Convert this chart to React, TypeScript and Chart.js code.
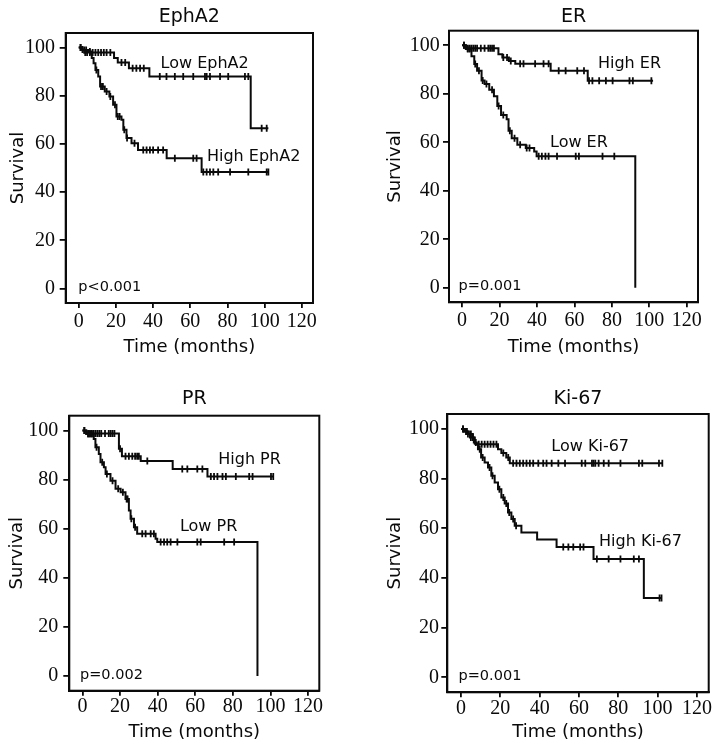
import React, { useEffect, useRef } from "react";
import { Chart, registerables } from "chart.js";
Chart.register(...registerables);

// ---------------- data ----------------
const X_TICKS = [0, 20, 40, 60, 80, 100, 120];
const Y_TICKS = [0, 20, 40, 60, 80, 100];
const X_TITLE = "Time (months)";
const Y_TITLE = "Survival";

// EphA2
const EPHA2_LOW_TIMES = [0, 1.5, 3, 19, 21, 27, 38, 92.5];
const EPHA2_LOW_SURV = [100, 99.2, 97.9, 95.6, 93.8, 91.4, 88, 66.5];
const EPHA2_LOW_END = 102;
const EPHA2_LOW_CENSOR = [1, 2, 3.5, 4.5, 6, 7.5, 9, 10.5, 12, 13.5, 15, 17, 23, 25, 29, 31, 33, 35, 43.6, 47.2, 51.7, 56.2, 61.6, 67.9, 68.8, 70.6, 76, 80.4, 89.4, 91.2, 98.4, 101.1];
const EPHA2_HIGH_TIMES = [0, 2, 5, 7, 8, 9, 10.5, 11.5, 14, 16.5, 18.5, 20.3, 23, 24, 25.7, 28.4, 31.9, 47.3, 66.1];
const EPHA2_HIGH_SURV = [100, 99, 98.3, 95.6, 93.5, 90.7, 88, 83.8, 81.7, 79.7, 76.2, 71.4, 70, 65.9, 62.4, 60.3, 57.5, 54, 48.3];
const EPHA2_HIGH_END = 102;
const EPHA2_HIGH_CENSOR = [1, 3, 4, 6, 9.5, 12, 13, 15, 17, 19.5, 21, 22, 24.5, 26, 30, 34.7, 36.5, 38.3, 40, 42.7, 45.4, 51.7, 61.6, 63.4, 67, 68.8, 70.6, 72.4, 75, 81.4, 91.2, 101.1, 102];

// ER
const ER_HIGH_TIMES = [0, 2, 19.4, 21.5, 25, 28.4, 47.3, 67.1];
const ER_HIGH_SURV = [100, 98.8, 96.3, 94.9, 93.5, 92.4, 89.5, 85.4];
const ER_HIGH_END = 102;
const ER_HIGH_CENSOR = [1, 3, 4, 5, 6, 7, 8, 10, 12, 14, 15, 16, 17, 22, 24, 26, 31, 32.8, 39, 43.5, 46.2, 51.6, 55.3, 61.5, 65.1, 67.8, 69.6, 73.2, 76.8, 80.4, 89.4, 91.2, 101.1];
const ER_LOW_TIMES = [0, 2, 5, 6.5, 8, 10.4, 12, 14.5, 17, 18.8, 20.8, 23.8, 24.8, 26.5, 29.5, 34, 38.5, 39.8, 92.5];
const ER_LOW_SURV = [100, 98.5, 95.5, 92.3, 89.5, 85.5, 84, 81.7, 79, 75, 71.2, 69.5, 64.7, 61.6, 59, 57.6, 56.2, 54.2, 0];
const ER_LOW_END = 92.5;
const ER_LOW_CENSOR = [1, 3, 4, 7, 9, 11, 13, 16, 19.5, 22, 25.5, 28, 31, 34.5, 36, 40.9, 42.6, 44.5, 46.2, 50.7, 60.7, 62.4, 75, 81.3];

// PR
const PR_HIGH_TIMES = [0, 2, 19.4, 21, 31, 48, 66.5];
const PR_HIGH_SURV = [100, 98.8, 92.5, 89.5, 87.5, 84.3, 81.2];
const PR_HIGH_END = 101.5;
const PR_HIGH_CENSOR = [1, 3, 4, 5, 6, 7, 8, 9, 10, 12, 14, 15, 16, 17, 20, 22.9, 24.7, 26.5, 28, 29.1, 30, 34.5, 53.1, 55.8, 61.1, 63.8, 68.3, 70, 71.8, 74.5, 76.3, 81.6, 88.7, 90.5, 100.3, 101.5];
const PR_LOW_TIMES = [0, 2, 6, 6.9, 8.7, 9.6, 11.4, 12.3, 14.9, 17.6, 20.3, 22.9, 24.7, 25.6, 27.4, 29.1, 38.9, 39.8, 93.1];
const PR_LOW_SURV = [100, 98.5, 96.5, 93.1, 90.4, 87, 85, 82.3, 79.5, 76.2, 74.8, 72.1, 67.4, 64, 60.6, 57.9, 55.9, 54.6, 0];
const PR_LOW_END = 93.1;
const PR_LOW_CENSOR = [1, 3, 4, 5, 7.5, 10.5, 13, 16, 19, 21.5, 23.5, 24, 26, 28, 31.8, 33.6, 36.3, 38, 41.6, 43.4, 45.1, 46.9, 50.5, 61.1, 62.9, 75.4, 80.7];

// Ki-67
const KI_LOW_TIMES = [0, 1.5, 3, 4.5, 6.5, 8, 18.8, 20.5, 23, 24.8];
const KI_LOW_SURV = [100, 99, 98, 96.5, 94.5, 93.8, 91.8, 90.3, 88.5, 86.2];
const KI_LOW_END = 102.4;
const KI_LOW_CENSOR = [1, 2.5, 3.5, 5, 6, 7.5, 9, 10.5, 12, 13.5, 15, 16.5, 18, 21.5, 24, 26.5, 28.2, 29.9, 31.6, 33.3, 35, 36.7, 39.3, 41.8, 43.5, 46.1, 49.5, 52.9, 61.4, 63.2, 66.6, 67.4, 68.3, 70, 72.6, 75.1, 81.1, 90.5, 92.2, 100.7, 102.4];
const KI_HIGH_TIMES = [0, 2, 4, 6, 7, 8.6, 10.2, 12, 13.7, 15.4, 17.1, 18.8, 20.5, 22.2, 23.9, 25.6, 27.3, 30.7, 38.7, 48.6, 67.4, 93];
const KI_HIGH_SURV = [100, 99, 98, 96.5, 94, 91.8, 88.5, 86.5, 84.5, 81.1, 78.4, 75.7, 72.4, 70, 66.4, 63.7, 61, 58.3, 55.5, 52.5, 47.6, 32];
const KI_HIGH_END = 102;
const KI_HIGH_CENSOR = [1, 3, 5, 9.5, 11, 14.5, 16, 19.5, 21.5, 23, 24.5, 26.5, 28, 52, 54.6, 57.1, 60.6, 62.3, 69.1, 75.1, 81.1, 87.9, 90.5, 101, 102];

// ---------------- helpers ----------------
type Curve = { times: number[]; surv: number[]; end: number; censor: number[] };

function survivalAt(times: number[], surv: number[], t: number) {
  let s = surv[0];
  for (let i = 0; i < times.length; i++) if (times[i] <= t) s = surv[i];
  return s;
}
function curvePoints(c: Curve) {
  const pts = c.times.map((t, i) => ({ x: t, y: c.surv[i] }));
  if (c.end > c.times[c.times.length - 1]) pts.push({ x: c.end, y: c.surv[c.surv.length - 1] });
  return pts;
}
function censorPoints(c: Curve) {
  return c.censor.map((t) => ({ x: t, y: survivalAt(c.times, c.surv, t) }));
}

type Label = { text: string; x: number; y: number; align: CanvasTextAlign; size: number };
type PanelCfg = {
  title: string;
  curves: Curve[];
  labels: Label[];
  box: { left: number; top: number; width: number; height: number };
  pad: { left: number; right: number; bottom: number };
  titlePad: { top: number; bottom: number };
  yAxisW: number;
  xAxisH: number;
  xTickPad: number;
  yTickPad: number;
};

const INK = "#0a0a0a";
const SANS = "'DejaVu Sans', sans-serif";
const SERIF = "'Liberation Serif', 'Times New Roman', serif";

const PANELS: PanelCfg[] = [
  {
    title: "EphA2",
    curves: [
      { times: EPHA2_LOW_TIMES, surv: EPHA2_LOW_SURV, end: EPHA2_LOW_END, censor: EPHA2_LOW_CENSOR },
      { times: EPHA2_HIGH_TIMES, surv: EPHA2_HIGH_SURV, end: EPHA2_HIGH_END, censor: EPHA2_HIGH_CENSOR },
    ],
    labels: [
      { text: "Low EphA2", x: 67.7, y: 93.4, align: "center", size: 16 },
      { text: "High EphA2", x: 94.1, y: 54.8, align: "center", size: 16 },
      { text: "p<0.001", x: -0.2, y: 0.6, align: "left", size: 14.5 },
    ],
    box: { left: 0, top: 0, width: 358, height: 375 },
    pad: { left: 3.2, right: 45, bottom: 12.7 },
    titlePad: { top: 5.6, bottom: 4.6 },
    yAxisW: 62.5,
    xAxisH: 59.3,
    xTickPad: 1.7,
    yTickPad: 4.7,
  },
  {
    title: "ER",
    curves: [
      { times: ER_HIGH_TIMES, surv: ER_HIGH_SURV, end: ER_HIGH_END, censor: ER_HIGH_CENSOR },
      { times: ER_LOW_TIMES, surv: ER_LOW_SURV, end: ER_LOW_END, censor: ER_LOW_CENSOR },
    ],
    labels: [
      { text: "High ER", x: 89.4, y: 92.2, align: "center", size: 16 },
      { text: "Low ER", x: 62.4, y: 59.7, align: "center", size: 16 },
      { text: "p=0.001", x: -1.9, y: 0.6, align: "left", size: 14.5 },
    ],
    box: { left: 358, top: 0, width: 359, height: 375 },
    pad: { left: 22.7, right: 19, bottom: 12.7 },
    titlePad: { top: 5.6, bottom: 2.3 },
    yAxisW: 68.3,
    xAxisH: 60,
    xTickPad: 1.5,
    yTickPad: 3.3,
  },
  {
    title: "PR",
    curves: [
      { times: PR_HIGH_TIMES, surv: PR_HIGH_SURV, end: PR_HIGH_END, censor: PR_HIGH_CENSOR },
      { times: PR_LOW_TIMES, surv: PR_LOW_SURV, end: PR_LOW_END, censor: PR_LOW_CENSOR },
    ],
    labels: [
      { text: "High PR", x: 88.9, y: 87.9, align: "center", size: 16 },
      { text: "Low PR", x: 67.1, y: 60.8, align: "center", size: 16 },
      { text: "p=0.002", x: -1.3, y: 0.3, align: "left", size: 14.5 },
    ],
    box: { left: 0, top: 375, width: 358, height: 375 },
    pad: { left: 2.7, right: 38.7, bottom: 2.7 },
    titlePad: { top: 12.9, bottom: 5 },
    yAxisW: 66.6,
    xAxisH: 56.6,
    xTickPad: -1,
    yTickPad: 5,
  },
  {
    title: "Ki-67",
    curves: [
      { times: KI_LOW_TIMES, surv: KI_LOW_SURV, end: KI_LOW_END, censor: KI_LOW_CENSOR },
      { times: KI_HIGH_TIMES, surv: KI_HIGH_SURV, end: KI_HIGH_END, censor: KI_HIGH_CENSOR },
    ],
    labels: [
      { text: "Low Ki-67", x: 65.7, y: 92.6, align: "center", size: 16 },
      { text: "High Ki-67", x: 91.3, y: 54.5, align: "center", size: 16 },
      { text: "p=0.001", x: -1.3, y: 0.5, align: "left", size: 14.5 },
    ],
    box: { left: 358, top: 375, width: 359, height: 375 },
    pad: { left: 22.4, right: 8.3, bottom: 2.7 },
    titlePad: { top: 12.8, bottom: 3.4 },
    yAxisW: 66.9,
    xAxisH: 55,
    xTickPad: -1,
    yTickPad: 2.3,
  },
];

const framePlugin = {
  id: "frameAndLabels",
  afterDraw(chart: any, _args: any, opts: any) {
    const { ctx, chartArea, scales } = chart;
    ctx.save();
    ctx.strokeStyle = INK;
    ctx.lineWidth = 2;
    ctx.strokeRect(chartArea.left, chartArea.top, chartArea.right - chartArea.left, chartArea.bottom - chartArea.top);
    const labels: Label[] = opts.labels || [];
    ctx.fillStyle = INK;
    ctx.textBaseline = "middle";
    for (const l of labels) {
      ctx.font = `${l.size}px ${SANS}`;
      ctx.textAlign = l.align;
      ctx.fillText(l.text, scales.x.getPixelForValue(l.x), scales.y.getPixelForValue(l.y));
    }
    ctx.restore();
  },
};

function Panel({ cfg }: { cfg: PanelCfg }) {
  const ref = useRef<HTMLCanvasElement | null>(null);
  useEffect(() => {
    if (!ref.current) return;
    const datasets: any[] = [];
    cfg.curves.forEach((c) => {
      datasets.push({
        type: "line",
        data: curvePoints(c),
        stepped: "before",
        borderColor: INK,
        borderWidth: 2,
        pointRadius: 0,
        fill: false,
        tension: 0,
      });
    });
    cfg.curves.forEach((c) => {
      datasets.push({
        type: "line",
        data: censorPoints(c),
        showLine: false,
        pointStyle: "line",
        rotation: 90,
        pointRadius: 3.5,
        pointBorderWidth: 1.8,
        pointBorderColor: INK,
        borderColor: INK,
      });
    });
    const chart = new Chart(ref.current, {
      type: "line",
      data: { datasets },
      plugins: [framePlugin],
      options: {
        animation: false,
        responsive: false,
        devicePixelRatio: 1,
        events: [],
        layout: { padding: { left: cfg.pad.left, top: 0, right: cfg.pad.right, bottom: cfg.pad.bottom } },
        plugins: {
          legend: { display: false },
          tooltip: { enabled: false },
          title: {
            display: true,
            text: cfg.title,
            fullSize: false,
            color: INK,
            font: { family: SANS, size: 19, weight: "normal" },
            padding: cfg.titlePad,
          },
          frameAndLabels: { labels: cfg.labels },
        } as any,
        scales: {
          x: {
            type: "linear",
            min: -7,
            max: 126,
            afterBuildTicks: (s: any) => {
              s.ticks = X_TICKS.map((v) => ({ value: v }));
            },
            afterFit: (s: any) => {
              s.height = cfg.xAxisH;
            },
            grid: { display: true, drawOnChartArea: false, drawTicks: true, tickLength: 5, color: INK, lineWidth: 1.8 },
            border: { display: true, color: INK, width: 2 },
            ticks: { autoSkip: false, maxRotation: 0, padding: cfg.xTickPad, color: INK, font: { family: SERIF, size: 20 } },
            title: { display: true, text: X_TITLE, color: INK, font: { family: SANS, size: 18 }, padding: { top: 0, bottom: 4 } },
          },
          y: {
            type: "linear",
            min: -6,
            max: 106,
            afterBuildTicks: (s: any) => {
              s.ticks = Y_TICKS.map((v) => ({ value: v }));
            },
            afterFit: (s: any) => {
              s.width = cfg.yAxisW;
            },
            grid: { display: true, drawOnChartArea: false, drawTicks: true, tickLength: 6, color: INK, lineWidth: 1.8 },
            border: { display: true, color: INK, width: 2 },
            ticks: { autoSkip: false, padding: cfg.yTickPad, color: INK, font: { family: SERIF, size: 20 } },
            title: { display: true, text: Y_TITLE, color: INK, font: { family: SANS, size: 18 }, padding: { top: 4, bottom: 0 } },
          },
        },
      } as any,
    });
    return () => chart.destroy();
  }, [cfg]);
  return (
    <canvas
      ref={ref}
      width={cfg.box.width}
      height={cfg.box.height}
      style={{ position: "absolute", left: cfg.box.left, top: cfg.box.top, width: cfg.box.width, height: cfg.box.height }}
    />
  );
}

export default function App() {
  return (
    <div style={{ position: "fixed", left: 0, top: 0, width: 717, height: 750, background: "#fff" }}>
      {PANELS.map((p) => (
        <Panel key={p.title} cfg={p} />
      ))}
    </div>
  );
}
